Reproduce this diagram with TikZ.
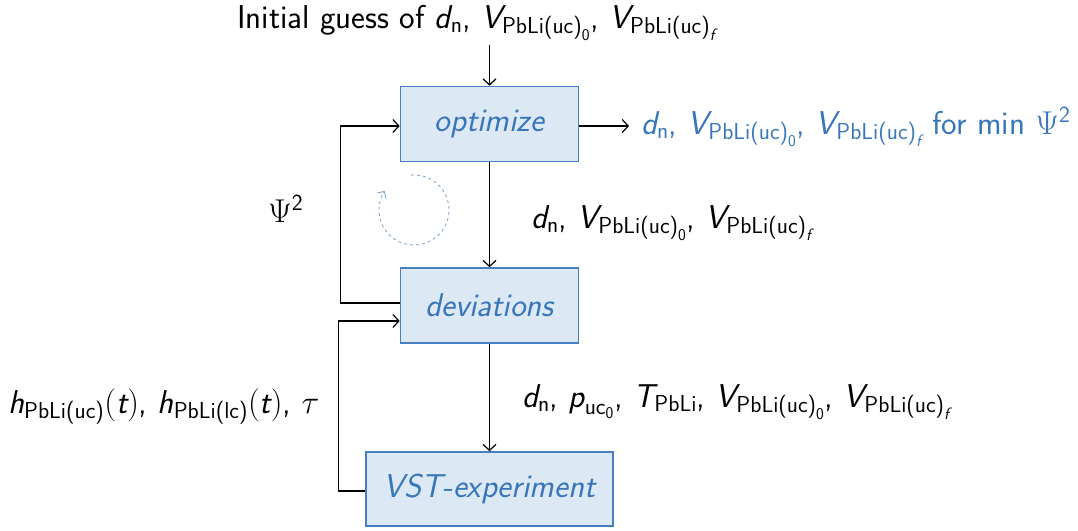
\RequirePackage{fix-cm}
\documentclass[tikz,border=0pt]{standalone}
\usepackage{amsmath}
\usetikzlibrary{arrows.meta}
\renewcommand{\familydefault}{\sfdefault}
\definecolor{boxfill}{RGB}{221,232,245}
\definecolor{boxdraw}{RGB}{70,128,190}
\definecolor{boxtext}{RGB}{55,118,186}
\definecolor{loopcol}{RGB}{120,160,205}
\newcommand\iv[1]{\textsf{\slshape #1}}
\newcommand\us[1]{\textsf{#1}}
\newcommand\Vz{\iv{V}_{\us{PbLi(uc)}_{\us{0}}}}
\newcommand\Vf{\iv{V}_{\us{PbLi(uc)}_{\iv{f}}}}
\newcommand\dn{\iv{d}_{\us{n}}}
\begin{document}
\begin{tikzpicture}[x=1pt,y=-1pt,
  every node/.style={font=\fontsize{33}{38}\selectfont\sffamily},
  blockbox/.style={draw=boxdraw,line width=1.6pt,fill=boxfill,text=boxtext,
    font=\fontsize{33}{38}\selectfont\sffamily\slshape,inner sep=0pt},
  conn/.style={line width=1.2pt,-{Straight Barb[length=6pt,width=13pt,line width=1.2pt]}},
  lab/.style={anchor=base west,inner sep=0pt}]
\useasboundingbox (0,0) rectangle (1078,530);
\node[blockbox,minimum width=178pt,minimum height=75pt] (opt) at (489.5,124) {optimize};
\node[blockbox,minimum width=178pt,minimum height=75pt] (dev) at (489.5,305.5) {deviations};
\node[blockbox,minimum width=247pt,minimum height=74pt] (vst) at (489.5,489) {VST-experiment};
\node[lab] (init) at (237,28) {Initial guess of $\dn$, $\Vz$, $\Vf$};
\node[lab,text=boxtext] (out) at (641,134) {$\dn$, $\Vz$, $\Vf$ for min $\Psi^{\us{2}}$};
\node[lab] (psi) at (268,222) {$\Psi^{\us{2}}$};
\node[lab] (lab1) at (531,228) {$\dn$, $\Vz$, $\Vf$};
\node[lab] (lab2) at (522,407) {$\dn$, $\iv{p}_{\us{uc}_{\us{0}}}$, $\iv{T}_{\us{PbLi}}$, $\Vz$, $\Vf$};
\node[lab] (lab3) at (8,413) {$\iv{h}_{\us{PbLi(uc)}}(\iv{t})$, $\iv{h}_{\us{PbLi(lc)}}(\iv{t})$, $\tau$};
\coordinate (c0) at (489.5,45);
\coordinate (c1) at (629,126);
\draw[conn] (c0) -- (opt.north);
\draw[conn] ([yshift=-2pt]opt.east) -- (c1);
\draw[conn] (opt.south) -- (dev.north);
\draw[conn] (dev.south) -- (vst.north);
\draw[conn] ([yshift=2.5pt]dev.west) -- ++(-59,0) |- ([yshift=-2pt]opt.west);
\draw[conn] ([yshift=-2pt]vst.west) -- ++(-27,0) |- ([yshift=-15.5pt]dev.west);
\draw[loopcol,dashed,line width=0.8pt,-{Straight Barb[length=5pt,width=10pt]}]
  (414,210) ++(-95:35) arc[start angle=-95,end angle=213,radius=35];
\end{tikzpicture}
\end{document}
